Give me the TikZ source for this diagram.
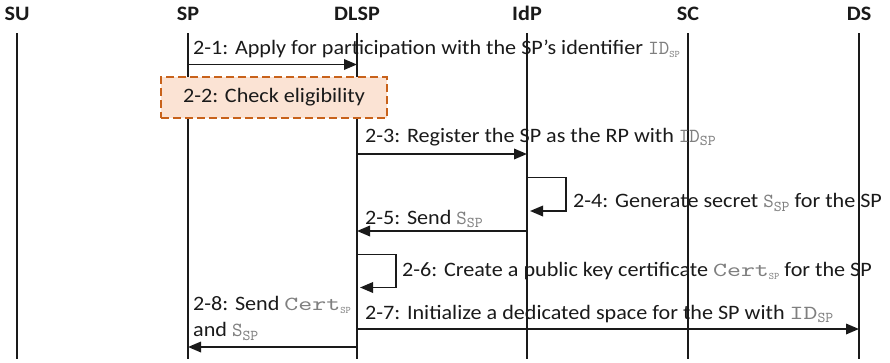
\documentclass[tikz,border=0pt]{standalone}
\usepackage{fontspec}
\setmainfont{Carlito}[FakeStretch=1.08]
\newfontfamily\monofam{lmmono10-regular.otf}
\newfontfamily\monowide{lmmono10-regular.otf}[FakeStretch=1.33]
\usetikzlibrary{arrows.meta}
\definecolor{ink}{HTML}{1A1A1A}
\definecolor{mgray}{HTML}{7F7F7F}
\definecolor{boxedge}{HTML}{C8621B}
\definecolor{boxfill}{HTML}{FBE3D4}
% monospaced variables with lowered subscripts (regular, small index, wide)
\newcommand\mvar[2]{{\color{mgray}\monofam\fontsize{20}{20}\selectfont #1\raisebox{-3.5pt}{\fontsize{15}{15}\selectfont #2}}}
\newcommand\mvarsm[2]{{\color{mgray}\monofam\fontsize{20}{20}\selectfont #1\raisebox{-3pt}{\fontsize{10}{10}\selectfont #2}}}
\newcommand\mvarwide[2]{{\color{mgray}\monowide\fontsize{20}{20}\selectfont #1\raisebox{-3.5pt}{\monofam\fontsize{15}{15}\selectfont #2}}}
\newcommand\cert{{\color{mgray}\monowide\fontsize{20}{20}\selectfont Cert\raisebox{-3pt}{\monofam\fontsize{10}{10}\selectfont SP}}}
\begin{document}
\begin{tikzpicture}[x=1pt,y=-1pt,
  font=\fontsize{20.5}{25}\selectfont, text=ink,
  actor/.style={font=\fontsize{20.5}{25}\selectfont\bfseries, anchor=base, inner sep=0pt},
  lifeline/.style={draw=ink, line width=1.3pt},
  msg/.style={draw=ink, line width=1.8pt, -{Triangle[length=13pt,width=10.5pt]}},
  lbl/.style={anchor=base west, inner sep=0pt},
  checkbox/.style={draw=boxedge, fill=boxfill, line width=2.2pt, dash pattern=on 8pt off 4pt,
    minimum width=226pt, minimum height=41pt, inner sep=0pt}]
\useasboundingbox (0,0) rectangle (890,362);

% participants
\node[actor] (su)   at (17,20)  {SU};
\node[actor] (sp)   at (188,20) {SP};
\node[actor] (dlsp) at (357,20) {DLSP};
\node[actor] (idp)  at (527,20) {IdP};
\node[actor] (sc)   at (688,20) {SC};
\node[actor] (ds)   at (859,20) {DS};

% lifelines
\foreach \p/\x in {su/17,sp/188,dlsp/357,idp/527,sc/688,ds/859}{
  \coordinate (\p T) at (\x,33);
  \coordinate (\p B) at (\x,359);
  \draw[lifeline] (\p T) -- (\p B);
}

% message rows
\coordinate (r1) at (0,64.5);
\coordinate (r3) at (0,154);
\coordinate (r4a) at (0,177.5);
\coordinate (r4b) at (0,211);
\coordinate (r5) at (0,231);
\coordinate (r6a) at (0,254.5);
\coordinate (r6b) at (0,287.5);
\coordinate (r7) at (0,329);
\coordinate (r8) at (0,347);

% 2-1
\draw[msg] (spT |- r1) -- (dlspT |- r1);
\node[lbl] (l1) at (193,54.3) {2-1: Apply for participation with the SP’s identifier \mvarsm{ID}{SP}};

% 2-2
\node[checkbox] (chk) at (274,97.5) {2-2: Check eligibility};

% 2-3
\draw[msg] (dlspT |- r3) -- (idpT |- r3);
\node[lbl] (l3) at (365,142) {2-3: Register the SP as the RP with \mvar{ID}{SP}};

% 2-4 (self call at IdP)
\coordinate (loop4) at (566,0);
\draw[msg] (idpT |- r4a) -- (loop4 |- r4a) -- (loop4 |- r4b) -- ([xshift=3pt]idpT |- r4b);
\node[lbl] (l4) at (573,207.5) {2-4: Generate secret \mvar{S}{SP} for the SP};

% 2-5
\draw[msg] (idpT |- r5) -- (dlspT |- r5);
\node[lbl] (l5) at (365,224) {2-5: Send \mvar{S}{SP}};

% 2-6 (self call at DLSP)
\coordinate (loop6) at (396,0);
\draw[msg] (dlspT |- r6a) -- (loop6 |- r6a) -- (loop6 |- r6b) -- ([xshift=3pt]dlspT |- r6b);
\node[lbl] (l6) at (402,276) {2-6: Create a public key certificate \cert{} for the SP};

% 2-7
\draw[msg] (dlspT |- r7) -- (dsT |- r7);
\node[lbl] (l7) at (365,319) {2-7: Initialize a dedicated space for the SP with \mvarwide{ID}{SP}};

% 2-8
\draw[msg] (dlspT |- r8) -- (spT |- r8);
\node[lbl] (l8a) at (193,310) {2-8: Send \cert};
\node[lbl] (l8b) at (193,336.5) {and \mvar{S}{SP}};
\end{tikzpicture}
\end{document}
